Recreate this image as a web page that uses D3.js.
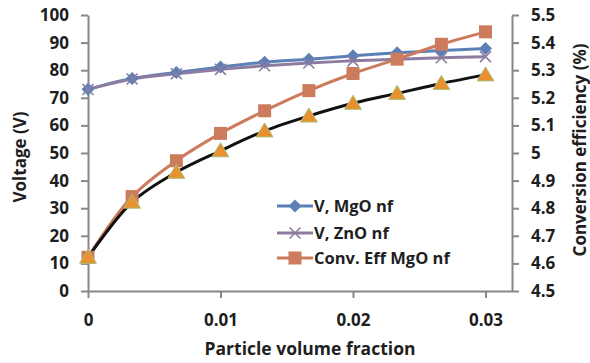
<!DOCTYPE html>
<html><head><meta charset="utf-8">
<script src="https://cdn.jsdelivr.net/npm/d3@7"></script>
<style>
html,body{margin:0;padding:0;background:#fff;}
svg text{font-family:"Open Sans","Noto Sans",sans-serif;font-weight:bold;fill:#1e1e1e;}
</style></head>
<body><svg id="c" width="590" height="363"></svg>
<script>
const xValues = [0, 0.00333, 0.00667, 0.01, 0.01333, 0.01667, 0.02, 0.02333, 0.02667, 0.03];
const vMgO = [73.1, 77.0, 79.2, 81.2, 82.9, 84.0, 85.2, 86.3, 87.1, 87.9];
const vZnO = [73.0, 76.8, 78.7, 80.3, 81.6, 82.6, 83.4, 84.0, 84.5, 84.9];
const effMgO = [4.622, 4.842, 4.972, 5.071, 5.153, 5.226, 5.288, 5.340, 5.394, 5.439];
const effFit = [4.622, 4.822, 4.930, 5.008, 5.080, 5.134, 5.180, 5.216, 5.252, 5.283];
const xTicks = [0, 0.01, 0.02, 0.03];
const yLeftTicks = [0,10,20,30,40,50,60,70,80,90,100];
const yRightTicks = [4.5,4.6,4.7,4.8,4.9,5,5.1,5.2,5.3,5.4,5.5];
const legendLabels = ["V, MgO nf", "V, ZnO nf", "Conv. Eff MgO nf"];

const svg = d3.select("#c");
const L = 88, R = 512, T = 15, B = 291;
const x = d3.scaleLinear().domain([0, 0.032]).range([L, R]);
const yL = d3.scaleLinear().domain([0, 100]).range([B, T]);
const yR = d3.scaleLinear().domain([4.5, 5.5]).range([B, T]);
const axisColor = "#878787";

function styleAxis(g){
  g.select(".domain").attr("stroke", axisColor).attr("stroke-width", 2);
  g.selectAll(".tick line").attr("stroke", axisColor).attr("stroke-width", 2);
  g.selectAll(".tick text").style("font-size", "17px").attr("fill", "#1e1e1e");
}
svg.append("g").attr("transform", `translate(0,${B})`)
  .call(d3.axisBottom(x).tickValues(xTicks).tickFormat(d => d === 0 ? "0" : d3.format(".2f")(d)).tickSize(7).tickSizeOuter(0).tickPadding(16))
  .call(styleAxis);
svg.append("g").attr("transform", `translate(${L},0)`)
  .call(d3.axisLeft(yL).tickValues(yLeftTicks).tickSize(7).tickSizeOuter(0).tickPadding(12))
  .call(styleAxis);
svg.append("g").attr("transform", `translate(${R},0)`)
  .call(d3.axisRight(yR).tickValues(yRightTicks).tickFormat(d => d === 5 ? "5" : d3.format(".1f")(d)).tickSize(7).tickSizeOuter(0).tickPadding(12))
  .call(styleAxis);

const curve = d3.curveCatmullRom.alpha(0.5);
function drawLine(vals, yScale, color, w){
  const line = d3.line().x((d,i) => x(xValues[i])).y(d => yScale(d)).curve(curve);
  svg.append("path").datum(vals).attr("d", line).attr("fill", "none").attr("stroke", color).attr("stroke-width", w);
}
const cBlue = "#5B80B8", cPurple = "#8E7CA0", cOrange = "#CC7B5D";

drawLine(vMgO, yL, cBlue, 3);
drawLine(vZnO, yL, cPurple, 3);
drawLine(effMgO, yR, cOrange, 3);
drawLine(effFit, yR, "#111", 3);

function diamond(g, cx, cy, s, color){
  g.append("path").attr("d", `M${cx},${cy-s}L${cx+s},${cy}L${cx},${cy+s}L${cx-s},${cy}Z`).attr("fill", color);
}
function cross(g, cx, cy, s, color){
  g.append("path").attr("d", `M${cx-s},${cy-s}L${cx+s},${cy+s}M${cx-s},${cy+s}L${cx+s},${cy-s}`).attr("stroke", color).attr("stroke-width", 1.6);
}
function square(g, cx, cy, s, color){
  g.append("rect").attr("x", cx-s).attr("y", cy-s).attr("width", 2*s).attr("height", 2*s).attr("fill", color);
}
function tri(g, cx, cy, s){
  g.append("path").attr("d", `M${cx},${cy-s}L${cx+s*1.05},${cy+s*0.75}L${cx-s*1.05},${cy+s*0.75}Z`).attr("fill", "#E8912E").attr("stroke", "#A9BE7A").attr("stroke-width", 1);
}
const gm = svg.append("g");
vMgO.forEach((v,i) => diamond(gm, x(xValues[i]), yL(v), 6.5, cBlue));
vZnO.forEach((v,i) => cross(gm, x(xValues[i]), yL(v), 5.5, cPurple));
effMgO.forEach((v,i) => square(gm, x(xValues[i]), yR(v), 6.5, cOrange));
effFit.forEach((v,i) => tri(gm, x(xValues[i]), yR(v), 8));

// legend
const lg = svg.append("g");
const ly = [206, 233, 258];
const lx0 = 277, lx1 = 313;
legendLabels.forEach((t,i) => {
  const col = [cBlue, cPurple, cOrange][i];
  lg.append("line").attr("x1", lx0).attr("x2", lx1).attr("y1", ly[i]).attr("y2", ly[i]).attr("stroke", col).attr("stroke-width", 3);
  const cx = (lx0+lx1)/2;
  if (i===0) diamond(lg, cx, ly[i], 6.5, col);
  if (i===1) cross(lg, cx, ly[i], 5.5, col);
  if (i===2) square(lg, cx, ly[i], 6.5, col);
  lg.append("text").attr("x", 314).attr("y", ly[i]).attr("dy", "0.35em").style("font-size", "16.5px").text(t);
});

// axis titles
svg.append("text").attr("x", 310).attr("y", 355).attr("text-anchor", "middle").style("font-size", "17.5px").text("Particle volume fraction");
svg.append("text").attr("transform", "translate(26,157) rotate(-90)").attr("text-anchor", "middle").style("font-size", "17px").text("Voltage (V)");
svg.append("text").attr("transform", "translate(586,150) rotate(-90)").attr("text-anchor", "middle").style("font-size", "17px").text("Conversion efficiency (%)");
</script></body></html>
